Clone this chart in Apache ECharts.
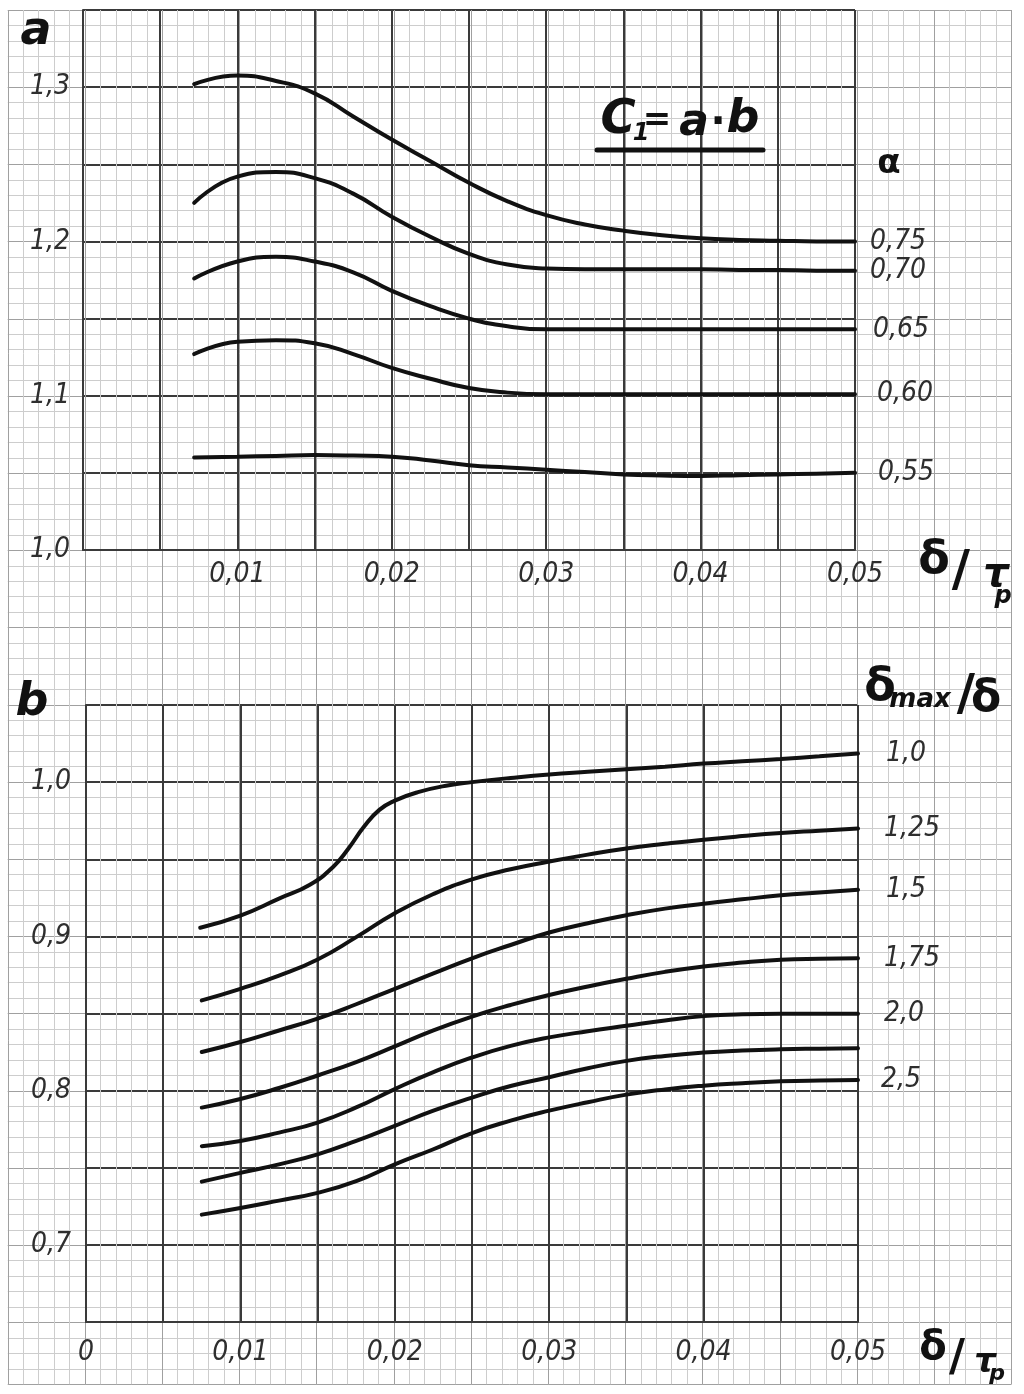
<!DOCTYPE html>
<html><head><meta charset="utf-8">
<script src="https://cdn.jsdelivr.net/npm/echarts@6/dist/echarts.min.js"></script>
<style>html,body{margin:0;padding:0;background:#fff}#c{width:1024px;height:1394px}</style>
</head><body><div id="c"></div><script>
// ---------- DATA ----------
// Top chart: a vs delta/tau_p for alpha
const alphaLabels = ['0,75', '0,70', '0,65', '0,60', '0,55'];
const topX = [0.0072, 0.010, 0.0125, 0.015, 0.0175, 0.020, 0.0225, 0.025, 0.0275, 0.030, 0.0325, 0.035, 0.0375, 0.040, 0.0425, 0.045, 0.0475, 0.050];
const aAlpha075 = [1.302, 1.3075, 1.304, 1.296, 1.281, 1.266, 1.252, 1.238, 1.226, 1.217, 1.211, 1.207, 1.204, 1.202, 1.201, 1.2005, 1.200, 1.200];
const aAlpha070 = [1.225, 1.242, 1.245, 1.241, 1.231, 1.216, 1.203, 1.192, 1.185, 1.1825, 1.182, 1.182, 1.182, 1.182, 1.1815, 1.1815, 1.181, 1.181];
const aAlpha065 = [1.176, 1.187, 1.190, 1.187, 1.180, 1.168, 1.158, 1.150, 1.145, 1.143, 1.143, 1.143, 1.143, 1.143, 1.143, 1.143, 1.143, 1.143];
const aAlpha060 = [1.127, 1.135, 1.136, 1.134, 1.127, 1.118, 1.111, 1.105, 1.102, 1.101, 1.101, 1.101, 1.101, 1.101, 1.101, 1.101, 1.101, 1.101];
const aAlpha055 = [1.060, 1.0605, 1.061, 1.0615, 1.0612, 1.0605, 1.058, 1.055, 1.0535, 1.052, 1.0505, 1.049, 1.0483, 1.048, 1.0485, 1.049, 1.0495, 1.050];

// Bottom chart: b vs delta/tau_p for delta_max/delta
const ratioLabels = ['1,0', '1,25', '1,5', '1,75', '2,0', '', '2,5'];
const bX10 = [0.0074, 0.010, 0.0125, 0.0145, 0.016, 0.017, 0.018, 0.019, 0.020, 0.0215, 0.0235, 0.025, 0.0275, 0.030, 0.0325, 0.035, 0.0375, 0.040, 0.0425, 0.045, 0.0475, 0.050];
const bRatio100 = [0.9056, 0.9135, 0.9245, 0.9335, 0.945, 0.957, 0.971, 0.982, 0.988, 0.9935, 0.998, 1.000, 1.0027, 1.005, 1.0067, 1.0083, 1.010, 1.012, 1.0135, 1.015, 1.0167, 1.0185];
const bX = [0.0075, 0.010, 0.0125, 0.015, 0.0175, 0.020, 0.0225, 0.025, 0.0275, 0.030, 0.0325, 0.035, 0.0375, 0.040, 0.0425, 0.045, 0.0475, 0.050];
const bRatio125 = [0.8585, 0.866, 0.8745, 0.885, 0.8995, 0.915, 0.9275, 0.937, 0.9435, 0.9485, 0.953, 0.957, 0.960, 0.9627, 0.965, 0.967, 0.9685, 0.970];
const bRatio150 = [0.825, 0.8315, 0.839, 0.8467, 0.856, 0.866, 0.876, 0.8858, 0.8944, 0.9025, 0.9085, 0.9137, 0.918, 0.9212, 0.924, 0.9266, 0.9285, 0.9303];
const bRatio175 = [0.789, 0.7946, 0.8017, 0.8098, 0.8185, 0.8287, 0.8391, 0.848, 0.8555, 0.862, 0.8675, 0.8725, 0.877, 0.8805, 0.883, 0.8848, 0.8855, 0.8858];
const bRatio200 = [0.764, 0.7674, 0.7728, 0.7793, 0.7891, 0.801, 0.812, 0.8215, 0.829, 0.8345, 0.8385, 0.842, 0.8455, 0.8483, 0.8495, 0.8498, 0.8498, 0.8498];
const bRatio225 = [0.741, 0.7467, 0.7522, 0.7587, 0.7674, 0.7772, 0.787, 0.7955, 0.803, 0.8087, 0.8145, 0.8193, 0.8225, 0.8247, 0.826, 0.8268, 0.8272, 0.8275];
const bRatio250 = [0.7196, 0.7239, 0.7287, 0.7337, 0.7413, 0.7522, 0.762, 0.7725, 0.7805, 0.787, 0.7925, 0.7974, 0.8008, 0.8032, 0.8048, 0.806, 0.8066, 0.8069];

// Tick labels
const topXTickVals = [0.01, 0.02, 0.03, 0.04, 0.05];
const topXTickLabels = ['0,01', '0,02', '0,03', '0,04', '0,05'];
const topYTickVals = [1.0, 1.1, 1.2, 1.3];
const topYTickLabels = ['1,0', '1,1', '1,2', '1,3'];
const botXTickVals = [0, 0.01, 0.02, 0.03, 0.04, 0.05];
const botXTickLabels = ['0', '0,01', '0,02', '0,03', '0,04', '0,05'];
const botYTickVals = [0.7, 0.8, 0.9, 1.0];
const botYTickLabels = ['0,7', '0,8', '0,9', '1,0'];

// ---------- STYLE / LAYOUT ----------
const HAND = "'DejaVu Sans Condensed', 'DejaVu Sans', sans-serif";
const BOLD = "'DejaVu Sans', sans-serif";
const INK = '#3a3a3a';
const CURVE = '#111';
const LABEL = '#2e2e2e';
const topLabelDist = [15, 15, 18, 22, 23];
const topLabelDy = [-1, 6, 0, -2, -2];
const botLabelDist = [28, 26, 28, 26, 26, 0, 23];
const botLabelDy = [1, 0, 0, 1, -2, 0, 5];

function lookup(vals, labels) {
  return function (v) {
    for (let i = 0; i < vals.length; i++) if (Math.abs(vals[i] - v) < 1e-7) return labels[i];
    return '';
  };
}
function pad(dy) { return dy >= 0 ? [2 * dy, 0, 0, 0] : [0, 0, -2 * dy, 0]; }

const handLabel = { fontFamily: HAND, fontStyle: 'italic', fontSize: 28, color: LABEL };

function paperAxis(gridIndex, max, interval, color, extra) {
  return Object.assign({
    type: 'value', gridIndex: gridIndex, min: 0, max: max, interval: interval,
    axisLine: { show: false }, axisTick: { show: false }, axisLabel: { show: false },
    splitLine: { show: true, lineStyle: { color: color, width: 1 } }, silent: true
  }, extra || {});
}
function chartAxis(gridIndex, min, max, interval, label) {
  return {
    type: 'value', gridIndex: gridIndex, min: min, max: max, interval: interval,
    axisLine: { show: true, lineStyle: { color: INK, width: 2 } },
    axisTick: { show: false },
    axisLabel: label,
    splitLine: { show: true, lineStyle: { color: INK, width: 2 } }
  };
}

const topCurves = [aAlpha075, aAlpha070, aAlpha065, aAlpha060, aAlpha055];
const botCurves = [bRatio100, bRatio125, bRatio150, bRatio175, bRatio200, bRatio225, bRatio250];

const series = [];
topCurves.forEach(function (ys, i) {
  series.push({
    type: 'line', name: alphaLabels[i], xAxisIndex: 2, yAxisIndex: 2,
    data: topX.map(function (x, j) { return [x, ys[j]]; }),
    smooth: 0.5, showSymbol: false, symbol: 'none',
    lineStyle: { color: CURVE, width: 4, cap: 'round' },
    endLabel: Object.assign({ show: true, formatter: alphaLabels[i], distance: topLabelDist[i], padding: pad(topLabelDy[i]) }, handLabel)
  });
});
botCurves.forEach(function (ys, i) {
  const xs = i === 0 ? bX10 : bX;
  series.push({
    type: 'line', name: 'r' + i, xAxisIndex: 3, yAxisIndex: 3,
    data: xs.map(function (x, j) { return [x, ys[j]]; }),
    smooth: 0.5, showSymbol: false, symbol: 'none',
    lineStyle: { color: CURVE, width: 4, cap: 'round' },
    endLabel: Object.assign({ show: ratioLabels[i] !== '', formatter: ratioLabels[i], distance: botLabelDist[i], padding: pad(botLabelDy[i]) }, handLabel)
  });
});

function txt(text, x, y, font, opts) {
  return Object.assign({
    type: 'text', x: x, y: y, silent: true, z: 100,
    style: { text: text, font: font, fill: CURVE, align: 'center', verticalAlign: 'middle', textAlign: 'center', textVerticalAlign: 'middle' }
  }, opts || {});
}
const BI = function (s) { return 'italic bold ' + s + 'px ' + BOLD; };
const B = function (s) { return 'bold ' + s + 'px ' + BOLD; };

const graphic = [
  txt('a', 36, 32, BI(46)),
  txt('b', 32, 703, BI(46)),
  // C1 = a . b
  txt('C', 618, 121, BI(48)),
  txt('1', 641, 134, BI(24)),
  txt('=', 657, 121, B(34)),
  txt('a', 694, 124, BI(44)),
  txt('·', 718, 124, B(40)),
  txt('b', 743, 120, BI(46)),
  { type: 'line', silent: true, z: 100, shape: { x1: 597, y1: 150, x2: 763, y2: 150 }, style: { stroke: CURVE, lineWidth: 5, lineCap: 'round' } },
  txt('α', 889, 164, B(34)),
  // delta / tau_p (top)
  txt('δ', 934, 561, B(46)),
  txt('/', 961, 572, B(50)),
  txt('τ', 996, 576, BI(40)),
  txt('p', 1003, 597, BI(24)),
  // delta / tau_p (bottom)
  txt('δ', 933, 1349, B(40)),
  txt('/', 957, 1360, B(44)),
  txt('τ', 985, 1363, BI(34)),
  txt('p', 997, 1374, BI(22)),
  // delta_max / delta
  txt('δ', 880, 688, B(46)),
  txt('max', 920, 700, BI(26)),
  txt('/', 966, 696, B(50)),
  txt('δ', 986, 700, B(44))
];

const option = {
  animation: false,
  backgroundColor: '#ffffff',
  grid: [
    { left: 7.8, top: 10, width: 1003.6, height: 1374.2 },
    { left: 83, top: 10, width: 772, height: 540 },
    { left: 86, top: 705, width: 772, height: 617 }
  ],
  xAxis: [
    paperAxis(0, 65, 1, '#cdcdcd'),
    paperAxis(0, 65, 5, '#a0a0a0', { position: 'top' }),
    chartAxis(1, 0, 0.05, 0.005, Object.assign({ show: true, margin: 11, formatter: lookup(topXTickVals, topXTickLabels) }, handLabel)),
    chartAxis(2, 0, 0.05, 0.005, Object.assign({ show: true, margin: 17, formatter: lookup(botXTickVals, botXTickLabels) }, handLabel))
  ],
  yAxis: [
    paperAxis(0, 89, 1, '#cdcdcd', { inverse: true }),
    paperAxis(0, 89, 5, '#a0a0a0', { inverse: true, position: 'right' }),
    chartAxis(1, 1.0, 1.35, 0.05, Object.assign({ show: true, margin: 13, formatter: lookup(topYTickVals, topYTickLabels) }, handLabel)),
    chartAxis(2, 0.65, 1.05, 0.05, Object.assign({ show: true, margin: 15, formatter: lookup(botYTickVals, botYTickLabels) }, handLabel))
  ],
  series: series,
  graphic: graphic
};

const chart = echarts.init(document.getElementById('c'), null, { renderer: 'canvas' });
chart.setOption(option);
</script></body></html>
